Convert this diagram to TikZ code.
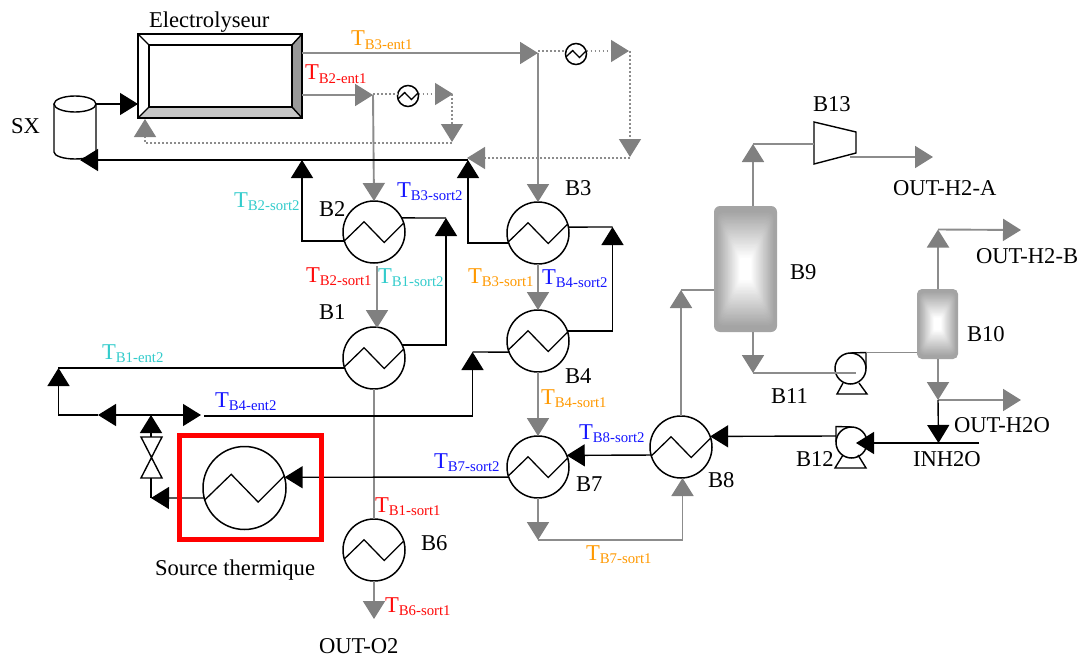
\documentclass[tikz,border=0pt]{standalone}
\usepackage{fontspec}
\setmainfont{Liberation Serif}
\usetikzlibrary{arrows.meta,calc}
\definecolor{tor}{HTML}{FF9900}
\definecolor{tcy}{HTML}{33CCCC}
\definecolor{tbl}{HTML}{1515FF}
\definecolor{tre}{HTML}{FF0A0A}
\definecolor{gln}{HTML}{8C8C8C}
\definecolor{gtp}{HTML}{808080}
\definecolor{sepo}{HTML}{A4A4A4}
\tikzset{
  bk/.style={draw=black,line width=1.4pt,line join=miter},
  gy/.style={draw=gln,line width=1.9pt},
  dt/.style={draw=gln,line width=1.4pt,dash pattern=on 1.6pt off 2.4pt},
  btip/.style={-{Triangle[length=18pt,width=22pt,color=black]}},
  gtip/.style={-{Triangle[length=18pt,width=22pt,color=gtp]}},
  hxc/.style={draw=black,circle,line width=1.5pt,inner sep=0pt,outer sep=0pt},
  zz/.style={draw=black,line width=1.3pt},
  lab/.style={anchor=base west,inner sep=0pt,outer sep=0pt,text=black,font=\fontsize{22.6}{22.6}\selectfont},
}
\newcommand{\hxn}[4]{% name,x,y,radius
  \node[hxc,minimum size=#4*2pt] (#1) at (#2,#3) {};
  \draw[zz] ($(#1.center)+(-#4*0.97,#4*0.3)$) -- ($(#1.center)+(-#4*0.32,-#4*0.33)$) -- ($(#1.center)+(#4*0.33,#4*0.34)$) -- ($(#1.center)+(#4*0.97,-#4*0.3)$);
}
\newcommand{\tlab}[5]{% name,x,y,colour,sub
  \node[lab,text=#4] (#1) at (#2,#3) {T\raisebox{-3.8pt}{\fontsize{14.8}{14.8}\selectfont #5}};
}
\newcommand{\sep}[6]{% name,cx,cy,w,h,radius
  \node[inner sep=0pt,outer sep=0pt,minimum width=#4pt,minimum height=#5pt] (#1) at (#2,#3) {};
  \foreach \i in {0,...,44}{
    \pgfmathsetmacro{\t}{\i/45}
    \pgfmathsetmacro{\ix}{\t*#4/2}
    \pgfmathsetmacro{\iy}{\t*#5/2}
    \pgfmathsetmacro{\shade}{max(0,min(100,100*(\t-0.08)/0.74))}
    \pgfmathsetmacro{\rad}{max(0.5,#6*(1-\t))}
    \fill[white!\shade!sepo,rounded corners=\rad pt] ($(#1.south west)+(\ix,-\iy)$) rectangle ($(#1.north east)+(-\ix,\iy)$);
  }
}
\begin{document}
\begin{tikzpicture}[x=1pt,y=-1pt]
\useasboundingbox (0,0) rectangle (1083,658);
\fill[white] (0,0) rectangle (1083,658);

% --- junctions and free ends
\coordinate (EL1) at (302,53);
\coordinate (EL2) at (302,95);
\coordinate (ELin) at (138,104);
\coordinate (ELb) at (145,119);
\coordinate (J3) at (538,53);
\coordinate (J2) at (373,95);
\coordinate (D3a) at (629,51);
\coordinate (D3b) at (630,51);
\coordinate (D3c) at (630,157);
\coordinate (D3d) at (467,158);
\coordinate (D2a) at (453,94);
\coordinate (D2b) at (452,94);
\coordinate (D2c) at (452,142);
\coordinate (D2d) at (145,143);
\coordinate (R1) at (468,160);
\coordinate (R2) at (302,160);
\coordinate (R0) at (80,160);
\coordinate (T2) at (446,218);
\coordinate (T3) at (612.5,227);
\coordinate (T4) at (472.5,352);
\coordinate (C2) at (377,266);
\coordinate (C1) at (377,328);
\coordinate (W1) at (58.5,368);
\coordinate (W2) at (58.5,415);
\coordinate (W3) at (98,415);
\coordinate (W4) at (151,415);
\coordinate (W5) at (201,415);
\coordinate (W6) at (204,416);
\coordinate (V1) at (151,437);
\coordinate (V2) at (151,478);
\coordinate (V3) at (151,498);
\coordinate (K1) at (538,540);
\coordinate (K2) at (682.5,540);
\coordinate (K3) at (682.5,478);
\coordinate (O6) at (374,619);
\coordinate (M1) at (681,290);
\coordinate (M2) at (753,373);
\coordinate (M3) at (753,144);
\coordinate (M4) at (933,157);
\coordinate (M5) at (938,229.5);
\coordinate (M6) at (1021,230);
\coordinate (M7) at (938,400);
\coordinate (M8) at (1021,400);
\coordinate (M9) at (938.5,443);
\coordinate (M10) at (979,443);
\coordinate (M11) at (856,443);

% --- separators (shaded)
\sep{B9}{745.5}{269}{63}{126}{6}
\sep{B10}{937.5}{324}{41}{70}{5}

% --- heat exchangers
\hxn{B2}{374}{232}{31}
\hxn{B3}{538}{233}{31}
\hxn{B1}{374}{358}{31}
\hxn{B4}{538}{341}{31}
\hxn{B7}{538}{467}{31}
\hxn{B8}{681}{447}{31}
\hxn{B6}{374}{550}{31}
\hxn{HS}{244.5}{488}{41.5}
\hxn{HA}{408}{96}{10.5}
\hxn{HB}{576}{54}{10.5}

% --- pumps, compressor, cylinder, electrolyser
\node[hxc,minimum size=31pt] (P11) at (850.5,368.5) {};
\draw[bk] (P11.north) -- (866,352.5) -- (866,368);
\draw[bk] (843,383) -- (837,394) -- (867,394) -- (859,383);
\node[hxc,minimum size=31pt] (P12) at (851.5,442.5) {};
\draw[bk] (P12.north) -- (836,426.5) -- (836,442);
\draw[bk] (843,455) -- (835,468) -- (866,468) -- (858,455);
\node[inner sep=0pt,outer sep=0pt,minimum width=42pt,minimum height=42pt] (B13) at (835,143) {};
\draw[bk] (814,122) -- (856,132) -- (856,153) -- (814,164) -- cycle;

\node[inner sep=0pt,outer sep=0pt,minimum width=42pt,minimum height=63pt] (SXu) at (75,127.5) {};
\draw[bk] (54,104) -- (54,152) arc[start angle=180,end angle=360,x radius=21,y radius=-7] -- (96,104);
\draw[bk] (75,104) ellipse[x radius=21,y radius=8];

\fill[black!40] (302,34) -- (302,118) -- (292,107) -- (292,45) -- cycle;
\fill[black!22] (138,118) -- (302,118) -- (292,107) -- (149,107) -- cycle;
\node[draw=black,line width=1.6pt,inner sep=0pt,outer sep=0pt,minimum width=164pt,minimum height=84pt] (EL) at (220,76) {};
\draw[bk] (149,45) rectangle (292,107);
\draw[bk] (138,34) -- (149,45) (302,34) -- (292,45) (138,118) -- (149,107) (302,118) -- (292,107);

% --- valve
\draw[bk] (141,437) -- (162,437) -- (141,478) -- (162,478) -- cycle;

% --- grey streams
\draw[gy,gtip] (EL1) -- (J3);
\draw[gy,gtip] (J3) -- (B3.north);
\draw[gy,gtip] (EL2) -- (J2);
\draw[gy,gtip] (J2) -- (B2.north);
\draw[gy,gtip] (C2) -- (C1);
\draw[gy] (B1.south) -- (B6.north);
\draw[gy,gtip] (B6.south) -- (O6);
\draw[gy,gtip] (B3.south) -- (B4.north);
\draw[gy,gtip] (B4.south) -- (B7.north);
\draw[gy,gtip] (B7.south) -- (K1);
\draw[gy,gtip] (K1) -- (K2) -- (K3);
\draw[gy,gtip] (B8.north) -- (M1);
\draw[gy] (M1) -- (B9.west |- M1);
\draw[gy,gtip] (B9.south -| M2) -- (M2);
\draw[gy] (M2) -- (856,373);
\draw[gy,gtip] (B9.north -| M3) -- (M3);
\draw[gy] (M3) -- (B13.west |- M3);
\draw[gy,gtip] (850,157) -- (M4);
\draw[gy] (866,352.5) -- (B10.west |- 866,352.5);
\draw[gy,gtip] (B10.north -| M5) -- (M5);
\draw[gy,gtip] (M5) -- (M6);
\draw[gy,gtip] (B10.south -| M7) -- (M7);
\draw[gy,gtip] (M7) -- (M8);

% --- dotted streams
\draw[dt] (J3 |- D3a) -- (HB.west |- D3a);
\draw[dt,gtip] (HB.east |- D3a) -- (D3a);
\draw[dt,gtip] (D3b) -- (D3c);
\draw[dt,gtip] (D3c |- D3d) -- (D3d);
\draw[dt] (J2 |- D2a) -- (HA.west |- D2a);
\draw[dt,gtip] (HA.east |- D2a) -- (D2a);
\draw[dt,gtip] (D2b) -- (D2c);
\draw[dt,gtip] (D2c |- D2d) -- (D2d) -- (ELb);

% --- black streams
\draw[bk,btip] (ELin -| SXu.east) -- (ELin);
\draw[bk,btip] (R1) -- (R0);
\draw[bk,btip] (B2.197) -| (R2);
\draw[bk,btip] (B3.199) -| (R1);
\draw[bk] (B2.27) -- (T2);
\draw[bk,btip] (B1.25) -| (T2);
\draw[bk] (B3.11) -- (T3);
\draw[bk,btip] (B4.19) -| (T3);
\draw[bk] (B4.201) -- (T4);
\draw[bk,btip] (W6) -| (T4);
\draw[bk,btip] (B1.199) -- (W1 |- B1.199) -- (W1);
\draw[bk] (W1) -- (W2) -- (W3);
\draw[bk,btip] (W4) -- (W3);
\draw[bk,btip] (W4) -- (W5);
\draw[bk,btip] (V1) -- (W4);
\draw[bk] (V2) -- (V3);
\draw[bk,btip] (HS.194) -- (V3);
\draw[bk,btip] (B7.199) -- (HS.15);
\draw[bk,btip] (B8.195) -- (B7.22);
\draw[bk,btip] (P12.west |- 0,436) -- (B8.20);
\draw[bk,btip] (M10) -- (M11);
\draw[bk,btip] (M7) -- (M9);

% --- thermal source frame
\node[draw=red,line width=5.5pt,inner sep=0pt,outer sep=0pt,minimum width=142pt,minimum height=104pt] (SRC) at (250.5,487.5) {};

% --- labels
\node[lab] (tEL) at (149,28) {Electrolyseur};
\node[lab] (tSX) at (11,133) {SX};
\node[lab] (tB2) at (319,216) {B2};
\node[lab] (tB3) at (565,195) {B3};
\node[lab] (tB1) at (319,319) {B1};
\node[lab] (tB4) at (565,383) {B4};
\node[lab] (tB7) at (576,491) {B7};
\node[lab] (tB8) at (708,487) {B8};
\node[lab] (tB6) at (421,550) {B6};
\node[lab] (tSRC) at (155,575) {Source thermique};
\node[lab] (tO2) at (319,653) {OUT-O2};
\node[lab] (tB13) at (813,111) {B13};
\node[lab] (tH2A) at (893,195) {OUT-H2-A};
\node[lab] (tH2B) at (976,263) {OUT-H2-B};
\node[lab] (tB9) at (790,279) {B9};
\node[lab] (tB10) at (967,341) {B10};
\node[lab] (tB11) at (771,403) {B11};
\node[lab] (tH2O) at (954,432) {OUT-H2O};
\node[lab] (tB12) at (796,466) {B12};
\node[lab] (tIN) at (913,466) {INH2O};

\tlab{a1}{351}{46}{tor}{B3-ent1}
\tlab{a2}{305}{80}{tre}{B2-ent1}
\tlab{a3}{234}{207}{tcy}{B2-sort2}
\tlab{a4}{397}{197}{tbl}{B3-sort2}
\tlab{a5}{306}{282}{tre}{B2-sort1}
\tlab{a6}{378}{283}{tcy}{B1-sort2}
\tlab{a7}{468}{283}{tor}{B3-sort1}
\tlab{a8}{542}{284}{tbl}{B4-sort2}
\tlab{a9}{541}{404}{tor}{B4-sort1}
\tlab{a10}{579}{439}{tbl}{B8-sort2}
\tlab{a11}{434}{468}{tbl}{B7-sort2}
\tlab{a12}{375}{512}{tre}{B1-sort1}
\tlab{a13}{385}{612}{tre}{B6-sort1}
\tlab{a14}{586}{560}{tor}{B7-sort1}
\tlab{a15}{102}{359}{tcy}{B1-ent2}
\tlab{a16}{215}{407}{tbl}{B4-ent2}
\end{tikzpicture}
\end{document}
